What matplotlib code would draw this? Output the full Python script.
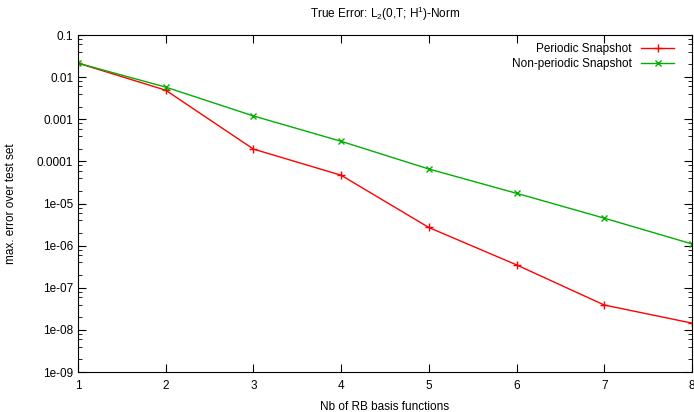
import numpy as np
import matplotlib.pyplot as plt

plt.rcParams['font.family'] = ['Liberation Sans', 'DejaVu Sans']
plt.rcParams['mathtext.fontset'] = 'custom'
plt.rcParams['mathtext.rm'] = 'Liberation Sans'

n_basis = [1, 2, 3, 4, 5, 6, 7, 8]
periodic = [0.0215, 0.0049, 1.96e-4, 4.7e-5, 2.7e-6, 3.5e-7, 3.9e-8, 1.45e-8]
nonperiodic = [0.0215, 0.0058, 1.2e-3, 3.0e-4, 6.6e-5, 1.75e-5, 4.5e-6, 1.1e-6]
ytick_vals = [1e-9, 1e-8, 1e-7, 1e-6, 1e-5, 1e-4, 1e-3, 1e-2, 1e-1]
ytick_labels = ['1e-09', '1e-08', '1e-07', '1e-06', '1e-05', '0.0001', '0.001', '0.01', '0.1']

fig = plt.figure(figsize=(6.94, 4.12), dpi=100)
ax = fig.add_axes([0.1124, 0.097, 0.8846, 0.818])

ax.semilogy(n_basis, periodic, color='#ff0000', lw=1, marker='+', ms=6, mew=1,
            label='Periodic Snapshot')
ax.semilogy(n_basis, nonperiodic, color='#00b000', lw=1, marker='x', ms=5, mew=1,
            label='Non-periodic Snapshot')

ax.set_xlim(1, 8)
ax.set_ylim(1e-9, 0.1)
ax.set_yticks(ytick_vals)
ax.set_yticklabels(ytick_labels)
ax.yaxis.set_minor_locator(plt.matplotlib.ticker.LogLocator(base=10, subs=[2, 4, 6, 8]))
ax.yaxis.set_minor_formatter(plt.matplotlib.ticker.NullFormatter())
ax.tick_params(which='both', direction='in', top=True, right=True, labelsize=8.5)
ax.tick_params(which='major', length=6)
ax.tick_params(which='minor', length=3)
ax.tick_params(axis='x', pad=6)

ax.set_xlabel('Nb of RB basis functions', fontsize=8.5, labelpad=6)
ax.set_ylabel('max. error over test set', fontsize=8.5, labelpad=14)
ax.set_title(r'True Error: L$_2$(0,T; H$^1$)-Norm', fontsize=8.5, pad=12)

ax.legend(loc='upper right', bbox_to_anchor=(0.985, 1.0), markerfirst=False,
          frameon=False, fontsize=8.5, handlelength=2.8, borderaxespad=0.3,
          labelspacing=0.2)

plt.savefig('out.png')
